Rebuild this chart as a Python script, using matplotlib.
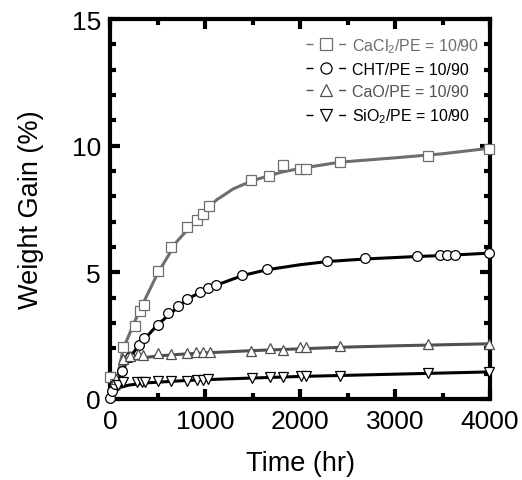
import matplotlib
matplotlib.use("Agg")
import matplotlib.pyplot as plt
from matplotlib.ticker import MultipleLocator
from matplotlib.lines import Line2D

plt.rcParams['font.family'] = ['Liberation Sans', 'DejaVu Sans']
plt.rcParams['mathtext.fontset'] = 'custom'
plt.rcParams['mathtext.rm'] = 'Liberation Sans'

# Measured points
# CaCl2/PE
t_cacl = [0, 50, 140, 263, 316, 360, 505, 642, 810, 913, 983, 1042, 1484, 1674, 1821, 2000, 2063, 2421, 3347, 3990]
w_cacl = [0.88, 0.6, 2.05, 2.9, 3.47, 3.73, 5.05, 6.0, 6.8, 7.05, 7.3, 7.6, 8.66, 8.82, 9.25, 9.09, 9.09, 9.37, 9.6, 9.88]
# CHT/PE
t_cht = [0, 20, 53, 126, 210, 305, 360, 500, 614, 716, 810, 947, 1030, 1116, 1390, 1650, 2284, 2684, 3231, 3474, 3547, 3632, 3990]
w_cht = [0.04, 0.3, 0.6, 1.1, 1.65, 2.13, 2.4, 2.93, 3.38, 3.66, 3.94, 4.22, 4.37, 4.5, 4.88, 5.12, 5.43, 5.55, 5.63, 5.67, 5.67, 5.67, 5.75]
# CaO/PE
t_cao = [60, 140, 210, 298, 350, 505, 642, 810, 905, 978, 1053, 1484, 1684, 1821, 2000, 2063, 2421, 3347, 3990]
w_cao = [0.8, 1.57, 1.7, 1.77, 1.73, 1.8, 1.77, 1.81, 1.84, 1.84, 1.84, 1.9, 2.0, 1.94, 2.04, 2.04, 2.08, 2.16, 2.16]
# SiO2/PE
t_sio = [84, 140, 284, 337, 368, 505, 642, 810, 913, 983, 1032, 1495, 1684, 1821, 2010, 2063, 2421, 3347, 3990]
w_sio = [0.55, 0.66, 0.66, 0.66, 0.68, 0.7, 0.72, 0.72, 0.75, 0.75, 0.79, 0.82, 0.86, 0.86, 0.91, 0.91, 0.91, 1.02, 1.06]

# Fitted curves as drawn in the chart
tf_cacl = [30, 140, 300, 500, 700, 1000, 1126, 1300, 1500, 1800, 2000, 2421, 3000, 3500, 4000]
wf_cacl = [0.0, 2.0, 3.4, 4.95, 6.2, 7.45, 7.87, 8.3, 8.62, 8.95, 9.1, 9.35, 9.52, 9.68, 9.9]
tf_cht = [0, 60, 126, 200, 300, 500, 800, 1000, 1400, 1650, 2000, 2300, 2700, 3200, 3600, 4000]
wf_cht = [0.0, 0.6, 1.1, 1.6, 2.1, 2.93, 3.9, 4.33, 4.88, 5.1, 5.3, 5.43, 5.53, 5.62, 5.68, 5.76]
tf_cao = [20, 50, 100, 150, 200, 300, 500, 800, 1000, 1500, 2000, 2500, 3000, 3500, 4000]
wf_cao = [0.0, 0.7, 1.1, 1.35, 1.48, 1.6, 1.7, 1.78, 1.82, 1.91, 1.98, 2.05, 2.1, 2.14, 2.18]
tf_sio = [20, 50, 100, 200, 400, 800, 1200, 2000, 3000, 4000]
wf_sio = [0.0, 0.3, 0.45, 0.55, 0.64, 0.73, 0.79, 0.89, 0.98, 1.07]

labels = [r'CaCl$_\mathregular{2}$/PE = 10/90', 'CHT/PE = 10/90', 'CaO/PE = 10/90', r'SiO$_\mathregular{2}$/PE = 10/90']
colors = ['#6e6e6e', '#000000', '#505050', '#000000']
markers = ['s', 'o', '^', 'v']

fig = plt.figure(figsize=(5.22, 4.81), dpi=100)
ax = fig.add_axes([110/522, 81/481, 380/522, 380/481])

series = [(t_cacl, w_cacl), (t_cht, w_cht), (t_cao, w_cao), (t_sio, w_sio)]
fits = [(tf_cacl, wf_cacl), (tf_cht, wf_cht), (tf_cao, wf_cao), (tf_sio, wf_sio)]
handles = []
for (t, w), (tf, wf), lab, c, m in zip(series, fits, labels, colors, markers):
    ax.plot(tf, wf, color=c, lw=2.2, zorder=2, solid_capstyle='butt')
    ax.plot(t, w, ls='none', marker=m, markersize=7, markerfacecolor='white',
            markeredgecolor=c, markeredgewidth=0.9, clip_on=False, zorder=3)
    handles.append(Line2D([], [], color=c, lw=1.0, ls=(0, (5, 18.5, 5, 100)), marker=m, markersize=8,
                          markerfacecolor='white', markeredgecolor=c, markeredgewidth=0.9, label=lab))

ax.set_xlim(0, 4000)
ax.set_ylim(0, 15)
ax.xaxis.set_major_locator(MultipleLocator(1000))
ax.xaxis.set_minor_locator(MultipleLocator(500))
ax.yaxis.set_major_locator(MultipleLocator(5))
ax.yaxis.set_minor_locator(MultipleLocator(1))
ax.tick_params(which='both', direction='in', top=True, right=True, width=3, labelsize=19)
ax.tick_params(which='major', length=7)
ax.tick_params(which='minor', length=4.5)
ax.tick_params(axis='x', pad=7.5)
ax.tick_params(axis='y', pad=6.5)
for s in ax.spines.values():
    s.set_linewidth(3)

ax.set_xlabel('Time (hr)', fontsize=19.5, labelpad=12)
ax.set_ylabel('Weight Gain (%)', fontsize=19.5, labelpad=20)

leg = ax.legend(handles=handles, loc='upper right', frameon=False, fontsize=11.5, handlelength=2.5,
                handletextpad=0.4, labelspacing=0.45, borderaxespad=0.3,
                bbox_to_anchor=(1.0, 0.985))
for txt, c in zip(leg.get_texts(), colors):
    txt.set_color(c)

fig.savefig('out.png', dpi=100)
